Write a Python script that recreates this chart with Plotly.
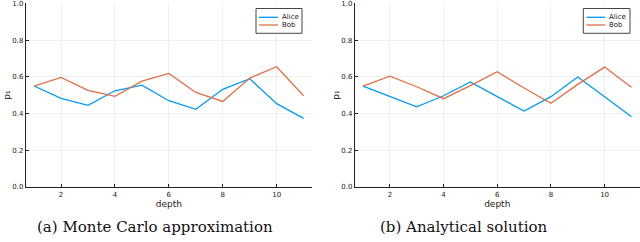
import plotly.graph_objects as go

depth = list(range(1, 12))
mc_alice = [0.550, 0.483, 0.445, 0.524, 0.555, 0.470, 0.423, 0.532, 0.590, 0.454, 0.374]
mc_bob = [0.550, 0.597, 0.526, 0.494, 0.577, 0.619, 0.515, 0.466, 0.593, 0.655, 0.497]
an_alice = [0.550, 0.495, 0.437, 0.497, 0.572, 0.492, 0.414, 0.492, 0.599, 0.492, 0.383]
an_bob = [0.550, 0.604, 0.546, 0.481, 0.552, 0.628, 0.539, 0.456, 0.559, 0.653, 0.543]
series_names = ["Alice", "Bob"]
x_ticks = [2, 4, 6, 8, 10]
y_ticks = [0.0, 0.2, 0.4, 0.6, 0.8, 1.0]
y_ticklabels = ["0.0", "0.2", "0.4", "0.6", "0.8", "1.0"]
captions = ["(a) Monte Carlo approximation", "(b) Analytical solution"]

BLUE = "rgb(0,154,250)"
ORANGE = "rgb(227,111,71)"
COLORS = [BLUE, ORANGE]
W, H = 640, 242

fig = go.Figure()
for (xa, ya), (sa, sb) in zip([("x", "y"), ("x2", "y2")], [(mc_alice, mc_bob), (an_alice, an_bob)]):
    for name, vals, col in zip(series_names, [sa, sb], COLORS):
        fig.add_trace(go.Scatter(x=depth, y=vals, mode="lines", name=name, showlegend=False,
                                 line=dict(color=col, width=1.3), xaxis=xa, yaxis=ya, cliponaxis=False))

tickfont = dict(family="DejaVu Sans", size=7, color="#222")
common_x = dict(range=[0.7, 11.3], tickvals=x_ticks, showgrid=True, gridcolor="#ececec", gridwidth=0.8,
                zeroline=False, showline=True, linecolor="#222", linewidth=1.2, ticks="inside",
                ticklen=3, tickcolor="#222", tickfont=tickfont, ticklabeloverflow="allow", automargin=False,
                title=dict(text="depth", font=dict(family="DejaVu Sans", size=9, color="#222"), standoff=0))
common_y = dict(range=[0, 1.0005], tickvals=y_ticks, ticktext=y_ticklabels, showgrid=True, gridcolor="#ececec",
                gridwidth=0.8, zeroline=False, showline=True, linecolor="#222", linewidth=1.2,
                ticks="inside", ticklen=3, tickcolor="#222", tickfont=tickfont, ticklabeloverflow="allow",
                automargin=False, domain=[(H - 187) / H, (H - 3.3) / H],
                title=dict(text="p₁", font=dict(family="DejaVu Sans", size=9, color="#222"), standoff=0))

fig.update_layout(
    width=W, height=H,
    margin=dict(l=0, r=0, t=0, b=0, autoexpand=False),
    paper_bgcolor="white", plot_bgcolor="white",
    showlegend=False,
    hovermode=False,
    xaxis=dict(domain=[26 / W, 311.7 / W], anchor="y", **common_x),
    yaxis=dict(anchor="x", **common_y),
    xaxis2=dict(domain=[355 / W, 639.5 / W], anchor="y2", **common_x),
    yaxis2=dict(anchor="x2", **common_y),
)

# custom compact legends (box, line samples, labels) in paper pixel coordinates
legend_boxes = [(256, 302, 8.5, 33.3), (583.3, 630, 8.5, 33.3)]
for (x0, x1, y0, y1) in legend_boxes:
    fig.add_shape(type="rect", xref="paper", yref="paper",
                  x0=x0 / W, x1=x1 / W, y0=1 - y0 / H, y1=1 - y1 / H,
                  line=dict(color="#444", width=1), fillcolor="white", layer="above")
    for i, (name, col) in enumerate(zip(series_names, COLORS)):
        yy = 17.3 + i * 7.7
        fig.add_shape(type="line", xref="paper", yref="paper",
                      x0=(x0 + 3) / W, x1=(x0 + 22) / W, y0=1 - yy / H, y1=1 - yy / H,
                      line=dict(color=col, width=1.3), layer="above")
        fig.add_annotation(text=name, x=(x0 + 24) / W, y=1 - yy / H, xref="paper", yref="paper",
                           showarrow=False, xanchor="left", yanchor="middle",
                           font=dict(family="DejaVu Sans", size=7, color="#222"))

for txt, cx in zip(captions, [155, 464]):
    fig.add_annotation(text=txt, x=cx / W, y=(H - 227) / H, xref="paper", yref="paper",
                       showarrow=False, xanchor="center", yanchor="middle",
                       font=dict(family="DejaVu Serif", size=15, color="#111"))

fig.write_html("out.html", config={"displayModeBar": False, "staticPlot": True},
               post_script="document.body.style.margin='0px';document.body.style.overflow='hidden';")
